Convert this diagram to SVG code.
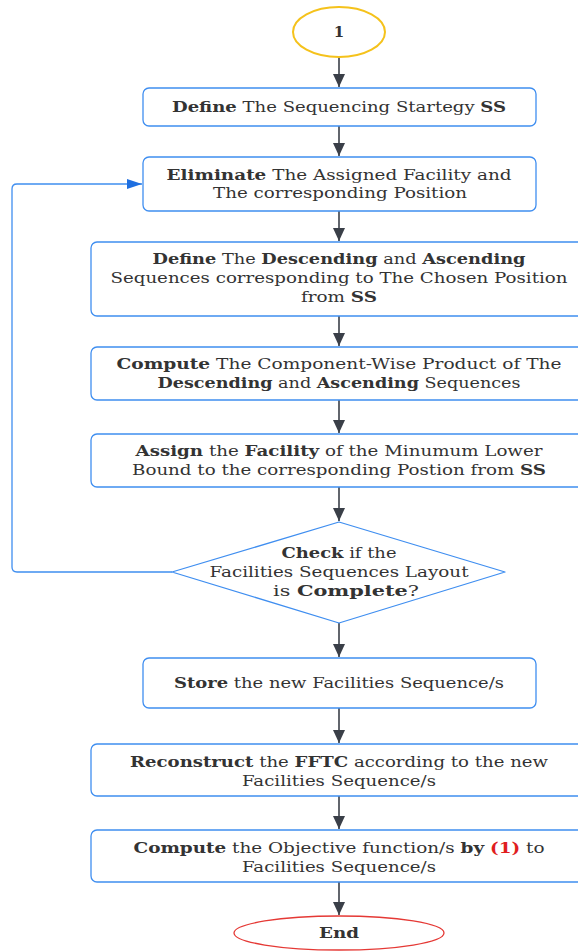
<svg xmlns="http://www.w3.org/2000/svg" width="578" height="951" viewBox="0 0 578 951">
<style>
.box{fill:#fff;stroke:#3f8ef0;stroke-width:1.3}
.t{font-family:"DejaVu Serif","Liberation Serif",serif;font-size:15px;fill:#333;text-anchor:middle}
.b{font-weight:bold}
.conn{stroke:#3a3f48;stroke-width:1.6;fill:none}
.loop{stroke:#3f8ef0;stroke-width:1.3;fill:none}
</style>
<defs>
<marker id="ah" markerUnits="userSpaceOnUse" markerWidth="14" markerHeight="14" viewBox="0 0 14 14" refX="13" refY="7" orient="auto">
<path d="M0,1 L13,7 L0,13 Z" fill="#3a3f48"/>
</marker>
<marker id="ahb" markerUnits="userSpaceOnUse" markerWidth="16" markerHeight="14" viewBox="0 0 16 14" refX="15" refY="7" orient="auto">
<path d="M0,2 L15,7 L0,12 Z" fill="#1f6fe0"/>
</marker>
</defs>
<g id="connectors">
<line class="conn" x1="339" y1="57" x2="339" y2="87" marker-end="url(#ah)"/>
<line class="conn" x1="339" y1="126" x2="339" y2="156" marker-end="url(#ah)"/>
<line class="conn" x1="339" y1="211" x2="339" y2="241" marker-end="url(#ah)"/>
<line class="conn" x1="339" y1="316" x2="339" y2="346" marker-end="url(#ah)"/>
<line class="conn" x1="339" y1="400" x2="339" y2="433" marker-end="url(#ah)"/>
<line class="conn" x1="339" y1="487" x2="339" y2="521" marker-end="url(#ah)"/>
<line class="conn" x1="339" y1="623" x2="339" y2="657" marker-end="url(#ah)"/>
<line class="conn" x1="339" y1="708" x2="339" y2="743" marker-end="url(#ah)"/>
<line class="conn" x1="339" y1="796" x2="339" y2="829" marker-end="url(#ah)"/>
<line class="conn" x1="339" y1="882" x2="339" y2="915" marker-end="url(#ah)"/>
<path class="loop" d="M172,572 H17 Q12,572 12,567 V189 Q12,184 17,184 H142" marker-end="url(#ahb)"/>
</g>
<g id="start">
<ellipse cx="339" cy="32" rx="46" ry="25" fill="#fff" stroke="#f5c21b" stroke-width="2"/>
<text class="t b" x="339" y="37">1</text>
</g>
<g id="n1">
<rect class="box" x="143" y="88" width="393" height="38" rx="6"/>
<text class="t" x="339" y="112" textLength="334" lengthAdjust="spacingAndGlyphs"><tspan class="b">Define</tspan> The Sequencing Startegy <tspan class="b">SS</tspan></text>
</g>
<g id="n2">
<rect class="box" x="143" y="157" width="393" height="54" rx="6"/>
<text class="t" x="339" y="180" textLength="345" lengthAdjust="spacingAndGlyphs"><tspan class="b">Eliminate</tspan> The Assigned Facility and</text>
<text class="t" x="340" y="198" textLength="254" lengthAdjust="spacingAndGlyphs">The corresponding Position</text>
</g>
<g id="n3">
<rect class="box" x="91" y="242" width="500" height="74" rx="6"/>
<text class="t" x="339" y="264" textLength="373" lengthAdjust="spacingAndGlyphs"><tspan class="b">Define</tspan> The <tspan class="b">Descending</tspan> and <tspan class="b">Ascending</tspan></text>
<text class="t" x="339" y="283" textLength="457" lengthAdjust="spacingAndGlyphs">Sequences corresponding to The Chosen Position</text>
<text class="t" x="339" y="302" textLength="76" lengthAdjust="spacingAndGlyphs">from <tspan class="b">SS</tspan></text>
</g>
<g id="n4">
<rect class="box" x="91" y="347" width="500" height="53" rx="6"/>
<text class="t" x="339" y="369" textLength="445" lengthAdjust="spacingAndGlyphs"><tspan class="b">Compute</tspan> The Component-Wise Product of The</text>
<text class="t" x="339" y="388" textLength="363" lengthAdjust="spacingAndGlyphs"><tspan class="b">Descending</tspan> and <tspan class="b">Ascending</tspan> Sequences</text>
</g>
<g id="n5">
<rect class="box" x="91" y="434" width="500" height="53" rx="6"/>
<text class="t" x="339" y="456" textLength="407" lengthAdjust="spacingAndGlyphs"><tspan class="b">Assign</tspan> the <tspan class="b">Facility</tspan> of the Minumum Lower</text>
<text class="t" x="339" y="475" textLength="414" lengthAdjust="spacingAndGlyphs">Bound to the corresponding Postion from <tspan class="b">SS</tspan></text>
</g>
<g id="decision">
<path d="M339,522 L505,572 L339,623 L172,572 Z" fill="#fff" stroke="#3f8ef0" stroke-width="1.3" stroke-linejoin="round"/>
<text class="t" x="339" y="558" textLength="115" lengthAdjust="spacingAndGlyphs"><tspan class="b">Check</tspan> if the</text>
<text class="t" x="339" y="577" textLength="259" lengthAdjust="spacingAndGlyphs">Facilities Sequences Layout</text>
<text class="t" x="346" y="596" textLength="146" lengthAdjust="spacingAndGlyphs">is  <tspan class="b">Complete</tspan>?</text>
</g>
<g id="n6">
<rect class="box" x="143" y="658" width="393" height="50" rx="6"/>
<text class="t" x="339" y="688" textLength="330" lengthAdjust="spacingAndGlyphs"><tspan class="b">Store</tspan> the new Facilities Sequence/s</text>
</g>
<g id="n7">
<rect class="box" x="91" y="744" width="500" height="52" rx="6"/>
<text class="t" x="339" y="767" textLength="418" lengthAdjust="spacingAndGlyphs"><tspan class="b">Reconstruct</tspan> the <tspan class="b">FFTC</tspan> according to the new</text>
<text class="t" x="339" y="786" textLength="194" lengthAdjust="spacingAndGlyphs">Facilities Sequence/s</text>
</g>
<g id="n8">
<rect class="box" x="91" y="830" width="500" height="52" rx="6"/>
<text class="t" x="339" y="853" textLength="411" lengthAdjust="spacingAndGlyphs"><tspan class="b">Compute</tspan> the Objective function/s  <tspan class="b">by</tspan> <tspan class="b" fill="#e01e1e">(1)</tspan> to</text>
<text class="t" x="339" y="872" textLength="194" lengthAdjust="spacingAndGlyphs">Facilities Sequence/s</text>
</g>
<g id="end">
<ellipse cx="339" cy="933" rx="105" ry="17" fill="#fff" stroke="#e53935" stroke-width="1.3"/>
<text class="t b" x="339" y="938" textLength="40" lengthAdjust="spacingAndGlyphs">End</text>
</g>
</svg>
